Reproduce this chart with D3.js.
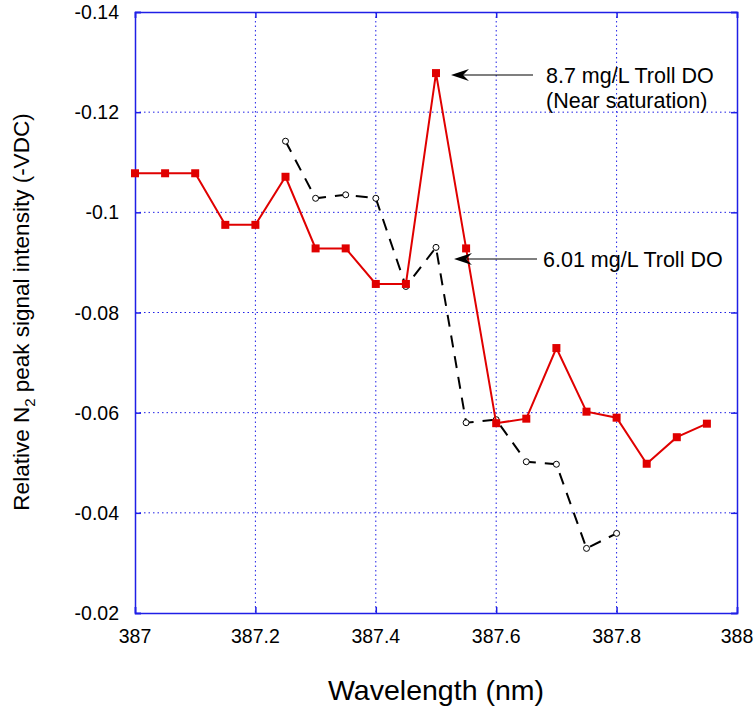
<!DOCTYPE html>
<html>
<head>
<meta charset="utf-8">
<script src="https://cdn.jsdelivr.net/npm/d3@7"></script>
<style>
body{margin:0;background:#fff;}
text{font-family:Arial,"Liberation Sans",sans-serif;fill:#000;}
</style>
</head>
<body>
<svg width="755" height="711"></svg>
<script>
// wavelengths (nm) and peak signal values
var wlSat = [387.0,387.05,387.1,387.15,387.2,387.25,387.3,387.35,387.4,387.45,387.5,387.55,387.6,387.65,387.7,387.75,387.8,387.85,387.9,387.95];
var valSat = [-0.1078,-0.1078,-0.1078,-0.0975,-0.0975,-0.1071,-0.0928,-0.0928,-0.0857,-0.0857,-0.1278,-0.0928,-0.0579,-0.0588,-0.0729,-0.0602,-0.0590,-0.0498,-0.0551,-0.0578];
var wlLow = [387.25,387.3,387.35,387.4,387.45,387.5,387.55,387.6,387.65,387.7,387.75,387.8];
var valLow = [-0.1142,-0.1028,-0.1035,-0.1028,-0.0852,-0.0930,-0.0580,-0.0586,-0.0502,-0.0497,-0.0329,-0.0359];
var xTicks = [387,387.2,387.4,387.6,387.8,388];
var yTicks = [-0.14,-0.12,-0.1,-0.08,-0.06,-0.04,-0.02];

var svg = d3.select("svg"),
    pl = 135, pr = 737, pt = 12, pb = 613;

var x = d3.scaleLinear().domain([387,388]).range([pl,pr]);
var y = d3.scaleLinear().domain([-0.14,-0.02]).range([pt,pb]);

var blue = "#1f1fe6";

// grid
svg.selectAll(".vg").data(xTicks.slice(1,-1)).enter().append("line")
   .attr("x1",d=>x(d)).attr("x2",d=>x(d)).attr("y1",pt).attr("y2",pb)
   .attr("stroke",blue).attr("stroke-width",1).attr("stroke-dasharray","1.5,3");
svg.selectAll(".hg").data(yTicks.slice(1,-1)).enter().append("line")
   .attr("x1",pl).attr("x2",pr).attr("y1",d=>y(d)).attr("y2",d=>y(d))
   .attr("stroke",blue).attr("stroke-width",1).attr("stroke-dasharray","1.5,3");

// axes (ticks inward, all four sides)
svg.append("g").attr("transform","translate(0,"+pb+")")
   .call(d3.axisBottom(x).tickValues(xTicks).tickSize(-6).tickFormat(""));
svg.append("g").attr("transform","translate(0,"+pt+")")
   .call(d3.axisTop(x).tickValues(xTicks).tickSize(-6).tickFormat(""));
svg.append("g").attr("transform","translate("+pl+",0)")
   .call(d3.axisLeft(y).tickValues(yTicks).tickSize(-6).tickFormat(""));
svg.append("g").attr("transform","translate("+pr+",0)")
   .call(d3.axisRight(y).tickValues(yTicks).tickSize(-6).tickFormat(""));
svg.selectAll(".domain,.tick line").attr("stroke",blue).attr("stroke-width",1.5);

// tick labels
svg.selectAll(".xl").data(xTicks).enter().append("text")
   .attr("x",d=>x(d)).attr("y",643).attr("text-anchor","middle")
   .attr("font-size",19.5).text(d=>d);
svg.selectAll(".yl").data(yTicks).enter().append("text")
   .attr("x",119).attr("y",d=>y(d)+7).attr("text-anchor","end")
   .attr("font-size",19.5).text(d=>d);

// axis titles
svg.append("text").attr("x",(pl+pr)/2).attr("y",700).attr("text-anchor","middle")
   .attr("font-size",28.5).text("Wavelength (nm)");
var yt = svg.append("text").attr("transform","translate(29,312) rotate(-90)")
   .attr("text-anchor","middle").attr("font-size",22.5);
yt.append("tspan").text("Relative N");
yt.append("tspan").attr("font-size",15).attr("dy",6).text("2");
yt.append("tspan").attr("dy",-6).text(" peak signal intensity (-VDC)");

var line = d3.line().x(d=>x(d[0])).y(d=>y(d[1]));
var satPts = d3.zip(wlSat,valSat), lowPts = d3.zip(wlLow,valLow);

// 6.01 mg/L series: black dashed with open circles
svg.append("path").attr("d",line(lowPts)).attr("fill","none")
   .attr("stroke","#000").attr("stroke-width",2).attr("stroke-dasharray","12,9");
svg.selectAll(".c").data(lowPts).enter().append("circle")
   .attr("cx",d=>x(d[0])).attr("cy",d=>y(d[1])).attr("r",3)
   .attr("fill","#fff").attr("stroke","#000").attr("stroke-width",1);

// 8.7 mg/L series: red with squares
svg.append("path").attr("d",line(satPts)).attr("fill","none")
   .attr("stroke","#e00000").attr("stroke-width",2);
svg.selectAll(".s").data(satPts).enter().append("rect")
   .attr("x",d=>x(d[0])-4).attr("y",d=>y(d[1])-4).attr("width",8).attr("height",8)
   .attr("fill","#e00000");

// annotations
function arrow(x0,x1,yy){
  svg.append("line").attr("x1",x0).attr("x2",x1+10).attr("y1",yy).attr("y2",yy)
     .attr("stroke","#000").attr("stroke-width",1.2);
  svg.append("path").attr("d","M"+x1+","+yy+" L"+(x1+18)+","+(yy-6)+" L"+(x1+12)+","+yy+" L"+(x1+18)+","+(yy+6)+" Z")
     .attr("fill","#000");
}
arrow(533,451,75);
arrow(537,454,259);
svg.append("text").attr("x",546).attr("y",83).attr("font-size",21.5).text("8.7 mg/L Troll DO");
svg.append("text").attr("x",546).attr("y",108).attr("font-size",21.5).text("(Near saturation)");
svg.append("text").attr("x",543).attr("y",267).attr("font-size",21.5).text("6.01 mg/L Troll DO");
</script>
</body>
</html>
